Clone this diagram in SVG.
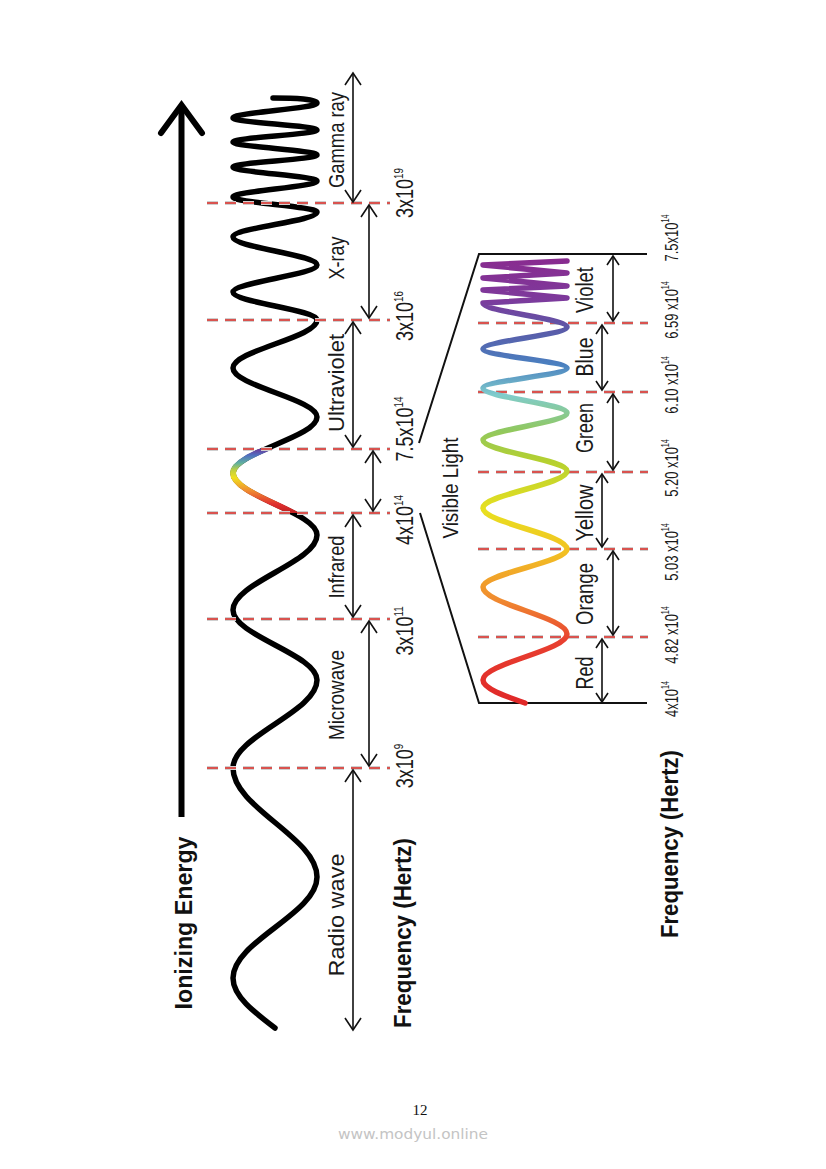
<svg xmlns="http://www.w3.org/2000/svg" width="826" height="1169" viewBox="0 0 826 1169">
<style>
.lbl{font-family:"Liberation Sans",Arial,sans-serif;font-size:22px;fill:#1a1a1a;text-anchor:middle}
.vlbl{font-family:"Liberation Sans",Arial,sans-serif;font-size:23px;fill:#1a1a1a;text-anchor:middle}
.frq{font-family:"Liberation Sans",Arial,sans-serif;font-size:24px;fill:#1a1a1a;text-anchor:middle}
.vfrq{font-family:"Liberation Sans",Arial,sans-serif;font-size:18px;fill:#1a1a1a;text-anchor:middle}
.bold{font-family:"Liberation Sans",Arial,sans-serif;font-weight:bold;fill:#111;text-anchor:middle}
.dashg{stroke:#cfcfcf;stroke-width:4;stroke-dasharray:11 7;fill:none}
.dashr{stroke:#d9534f;stroke-width:2;stroke-dasharray:11 7;fill:none}
.arr{stroke:#111;stroke-width:1.6;fill:none;marker-start:url(#ah);marker-end:url(#ah)}
.varr{stroke:#111;stroke-width:1.6;fill:none;marker-start:url(#ahs);marker-end:url(#ahs)}
.brk{stroke:#111;stroke-width:2;fill:none}
</style>
<defs>
<marker id="ah" viewBox="0 0 13 16" refX="12" refY="8" markerWidth="13" markerHeight="16" markerUnits="userSpaceOnUse" orient="auto-start-reverse" overflow="visible">
<path d="M0,0 L12,8 L0,16" fill="none" stroke="#111" stroke-width="1.6"/>
</marker>
<marker id="ahs" viewBox="0 0 10 12" refX="9" refY="6" markerWidth="10" markerHeight="12" markerUnits="userSpaceOnUse" orient="auto-start-reverse" overflow="visible">
<path d="M0,0 L9,6 L0,12" fill="none" stroke="#111" stroke-width="1.6"/>
</marker>
<linearGradient id="gVis" gradientUnits="userSpaceOnUse" x1="0" y1="255" x2="0" y2="703">
<stop offset="0" stop-color="#8a2a8e"/>
<stop offset="0.10" stop-color="#7d3a9c"/>
<stop offset="0.167" stop-color="#5a5aa8"/>
<stop offset="0.245" stop-color="#4a80c0"/>
<stop offset="0.3125" stop-color="#80cccc"/>
<stop offset="0.39" stop-color="#90c860"/>
<stop offset="0.458" stop-color="#b4d030"/>
<stop offset="0.57" stop-color="#e8e020"/>
<stop offset="0.66" stop-color="#f2c222"/>
<stop offset="0.77" stop-color="#f08a30"/>
<stop offset="0.86" stop-color="#e84030"/>
<stop offset="1" stop-color="#e02828"/>
</linearGradient>
<linearGradient id="gMain" gradientUnits="userSpaceOnUse" x1="0" y1="449" x2="0" y2="513">
<stop offset="0" stop-color="#6a3a9a"/>
<stop offset="0.1" stop-color="#5070c0"/>
<stop offset="0.22" stop-color="#60b0a0"/>
<stop offset="0.33" stop-color="#c0d040"/>
<stop offset="0.45" stop-color="#f0e020"/>
<stop offset="0.64" stop-color="#f09030"/>
<stop offset="0.86" stop-color="#e03030"/>
<stop offset="1" stop-color="#c02020"/>
</linearGradient>
<clipPath id="clipVis"><rect x="200" y="449" width="200" height="64"/></clipPath>
<path id="mainWavePath" d="M273,98 C295,98 317,99 317,103 C317,108.5 233,112.5 233,118 C233,122.4 317,125.6 317,130 C317,134.4 233,137.6 233,142 C233,146.7 317,150.3 317,155 C317,159.4 233,162.6 233,167 C233,172.1 317,175.9 317,181 C317,186.8 233,191.2 233,197 C233,202.5 317,206.5 317,212 C317,221.1 233,227.9 233,237 C233,247.2 317,254.8 317,265 C317,274.8 233,282.2 233,292 C233,302.2 317,309.8 317,320 C317,337.5 233,350.5 233,368 C233,385.8 317,399.2 317,417 C317,437.4 233,452.6 233,473 C233,495.6 317,512.4 317,535 C317,562.3 233,582.7 233,610 C233,635.5 317,654.5 317,680 C317,712 233,736 233,768 C233,807.7 317,837.3 317,877 C317,913.8 233,941.2 233,978 C233,996.2 254,1012.1 275,1028"/>
</defs>

<rect width="826" height="1169" fill="#ffffff"/>

<g id="energy-arrow">
<line x1="181.5" y1="817" x2="181.5" y2="108" stroke="#000" stroke-width="6"/>
<polyline points="161,133 181.5,105 202,133" fill="none" stroke="#000" stroke-width="6" stroke-linejoin="miter" stroke-linecap="round"/>
<text class="bold" font-size="23" transform="translate(192,923) rotate(-90)" textLength="173" lengthAdjust="spacingAndGlyphs">Ionizing Energy</text>
</g>

<g id="main-wave">
<use href="#mainWavePath" fill="none" stroke="#000" stroke-width="5.5" stroke-linecap="round" stroke-linejoin="round"/>
<use href="#mainWavePath" fill="none" stroke="url(#gMain)" stroke-width="6" clip-path="url(#clipVis)"/>
</g>

<g id="dividers">
<g class="dashg">
<line x1="207" y1="203" x2="390" y2="203"/>
<line x1="207" y1="320" x2="390" y2="320"/>
<line x1="207" y1="449" x2="390" y2="449"/>
<line x1="207" y1="513" x2="390" y2="513"/>
<line x1="207" y1="619" x2="390" y2="619"/>
<line x1="207" y1="768" x2="390" y2="768"/>
<line x1="478" y1="323" x2="648" y2="323"/>
<line x1="478" y1="392" x2="648" y2="392"/>
<line x1="478" y1="472" x2="648" y2="472"/>
<line x1="478" y1="549" x2="648" y2="549"/>
<line x1="478" y1="637" x2="648" y2="637"/>
</g>
<g class="dashr">
<line x1="207" y1="203" x2="390" y2="203"/>
<line x1="207" y1="320" x2="390" y2="320"/>
<line x1="207" y1="449" x2="390" y2="449"/>
<line x1="207" y1="513" x2="390" y2="513"/>
<line x1="207" y1="619" x2="390" y2="619"/>
<line x1="207" y1="768" x2="390" y2="768"/>
<line x1="478" y1="323" x2="648" y2="323"/>
<line x1="478" y1="392" x2="648" y2="392"/>
<line x1="478" y1="472" x2="648" y2="472"/>
<line x1="478" y1="549" x2="648" y2="549"/>
<line x1="478" y1="637" x2="648" y2="637"/>
</g>
</g>

<g id="visible-bracket">
<path class="brk" d="M419,443 L479,254 L647,254"/>
<path class="brk" d="M420,513 L479,703 L647,703"/>
</g>

<g id="visible-wave">
<path d="M567,261 L483,265 L567,273 L483,278 L567,286 L483,290 L567,298 L483,303 C483,311.7 567,318.3 567,327 C567,335 483,341 483,349 C483,355.9 567,361.1 567,368 C567,375.3 483,380.7 483,388 C483,397.1 567,403.9 567,413 C567,422.8 483,430.2 483,440 C483,451.3 567,459.7 567,471 C567,484.5 483,494.5 483,508 C483,522.9 567,534.1 567,549 C567,562.8 483,573.2 483,587 C483,604.1 567,616.9 567,634 C567,650.7 483,663.3 483,680 C483,688.4 504,695.7 525,703" fill="none" stroke="url(#gVis)" stroke-width="5.5" stroke-linecap="round" stroke-linejoin="round"/>
</g>

<g id="connectors">
<line class="arr" x1="353" y1="73" x2="353" y2="202"/>
<line class="arr" x1="369" y1="205" x2="369" y2="318"/>
<line class="arr" x1="353" y1="322" x2="353" y2="447"/>
<line class="arr" x1="373" y1="451" x2="373" y2="511"/>
<line class="arr" x1="353" y1="515" x2="353" y2="617"/>
<line class="arr" x1="369" y1="621" x2="369" y2="766"/>
<line class="arr" x1="353" y1="770" x2="353" y2="1030"/>
<line class="varr" x1="613" y1="256" x2="613" y2="321"/>
<line class="varr" x1="602" y1="325" x2="602" y2="390"/>
<line class="varr" x1="613" y1="394" x2="613" y2="470"/>
<line class="varr" x1="602" y1="474" x2="602" y2="547"/>
<line class="varr" x1="613" y1="551" x2="613" y2="635"/>
<line class="varr" x1="602" y1="639" x2="602" y2="702"/>
</g>

<g id="band-gamma">
<text class="lbl" transform="translate(344,140) rotate(-90)" textLength="96" lengthAdjust="spacingAndGlyphs">Gamma ray</text>
<text class="frq" transform="translate(413,193) rotate(-90) scale(0.75,1)">3x10<tspan dy="-10" font-size="13">19</tspan></text>
</g>
<g id="band-xray">
<text class="lbl" transform="translate(344,258) rotate(-90)" textLength="43" lengthAdjust="spacingAndGlyphs">X-ray</text>
<text class="frq" transform="translate(413,316) rotate(-90) scale(0.75,1)">3x10<tspan dy="-10" font-size="13">16</tspan></text>
</g>
<g id="band-uv">
<text class="lbl" transform="translate(344,383) rotate(-90)" textLength="98" lengthAdjust="spacingAndGlyphs">Ultraviolet</text>
<text class="frq" transform="translate(413,429) rotate(-90) scale(0.75,1)">7.5x10<tspan dy="-10" font-size="13">14</tspan></text>
</g>
<g id="band-visible">
<text class="lbl" transform="translate(458,488) rotate(-90)" textLength="101" lengthAdjust="spacingAndGlyphs">Visible Light</text>
<text class="frq" transform="translate(413,520) rotate(-90) scale(0.75,1)">4x10<tspan dy="-10" font-size="13">14</tspan></text>
</g>
<g id="band-infrared">
<text class="lbl" transform="translate(344,567) rotate(-90)" textLength="63" lengthAdjust="spacingAndGlyphs">Infrared</text>
<text class="frq" transform="translate(413,631) rotate(-90) scale(0.75,1)">3x10<tspan dy="-10" font-size="13">11</tspan></text>
</g>
<g id="band-microwave">
<text class="lbl" transform="translate(344,695) rotate(-90)" textLength="90" lengthAdjust="spacingAndGlyphs">Microwave</text>
<text class="frq" transform="translate(413,766) rotate(-90) scale(0.75,1)">3x10<tspan dy="-10" font-size="13">9</tspan></text>
</g>
<g id="band-radio">
<text class="lbl" transform="translate(344,915) rotate(-90)" textLength="123" lengthAdjust="spacingAndGlyphs">Radio wave</text>
</g>
<g id="axis-main">
<text class="bold" font-size="24" transform="translate(411,933) rotate(-90)" textLength="190" lengthAdjust="spacingAndGlyphs">Frequency (Hertz)</text>
</g>

<g id="color-red">
<text class="vlbl" transform="translate(593,673) rotate(-90)" textLength="33" lengthAdjust="spacingAndGlyphs">Red</text>
<text class="vfrq" transform="translate(678,699) rotate(-90) scale(0.72,1)">4x10<tspan dy="-9" font-size="10">14</tspan></text>
</g>
<g id="color-orange">
<text class="vlbl" transform="translate(593,594) rotate(-90)" textLength="62" lengthAdjust="spacingAndGlyphs">Orange</text>
<text class="vfrq" transform="translate(678,635) rotate(-90) scale(0.72,1)">4.82 x10<tspan dy="-9" font-size="10">14</tspan></text>
</g>
<g id="color-yellow">
<text class="vlbl" transform="translate(593,513) rotate(-90)" textLength="57" lengthAdjust="spacingAndGlyphs">Yellow</text>
<text class="vfrq" transform="translate(678,552) rotate(-90) scale(0.72,1)">5.03 x10<tspan dy="-9" font-size="10">14</tspan></text>
</g>
<g id="color-green">
<text class="vlbl" transform="translate(593,428) rotate(-90)" textLength="50" lengthAdjust="spacingAndGlyphs">Green</text>
<text class="vfrq" transform="translate(678,468) rotate(-90) scale(0.72,1)">5.20 x10<tspan dy="-9" font-size="10">14</tspan></text>
</g>
<g id="color-blue">
<text class="vlbl" transform="translate(593,357) rotate(-90)" textLength="39" lengthAdjust="spacingAndGlyphs">Blue</text>
<text class="vfrq" transform="translate(678,385) rotate(-90) scale(0.72,1)">6.10 x10<tspan dy="-9" font-size="10">14</tspan></text>
</g>
<g id="color-violet">
<text class="vlbl" transform="translate(593,290) rotate(-90)" textLength="46" lengthAdjust="spacingAndGlyphs">Violet</text>
<text class="vfrq" transform="translate(678,310) rotate(-90) scale(0.72,1)">6.59 x10<tspan dy="-9" font-size="10">14</tspan></text>
<text class="vfrq" transform="translate(678,238) rotate(-90) scale(0.72,1)">7.5x10<tspan dy="-9" font-size="10">14</tspan></text>
</g>
<g id="axis-visible">
<text class="bold" font-size="23" transform="translate(678,844) rotate(-90)" textLength="188" lengthAdjust="spacingAndGlyphs">Frequency (Hertz)</text>
</g>

<g id="footer">
<text x="420" y="1115" font-family="'Liberation Serif','DejaVu Serif',serif" font-size="15" fill="#111" text-anchor="middle">12</text>
<text x="413" y="1139" font-family="'DejaVu Sans','Liberation Sans',sans-serif" font-size="14" fill="#c4c4c4" text-anchor="middle" textLength="150" lengthAdjust="spacingAndGlyphs">www.modyul.online</text>
</g>
</svg>
